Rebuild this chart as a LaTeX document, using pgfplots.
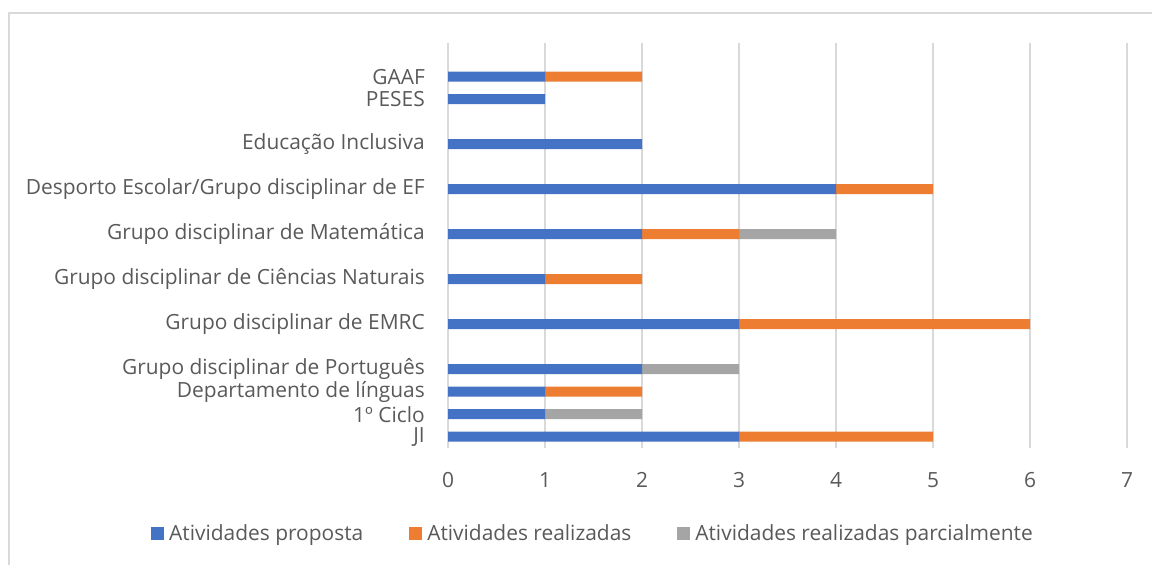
\documentclass[border=0pt]{standalone}
\usepackage{pgfplots}
\pgfplotsset{compat=1.18}
\usepackage{fontspec}
\setmainfont{Open Sans}
\definecolor{cblue}{HTML}{4472C4}
\definecolor{corange}{HTML}{ED7D31}
\definecolor{cgray}{HTML}{A5A5A5}
\definecolor{ctext}{HTML}{595959}
\definecolor{cgrid}{HTML}{D9D9D9}
\begin{document}
\begin{tikzpicture}[x=1bp,y=1bp]
\path[use as bounding box] (0,0) rectangle (1152,565);
\draw[cgrid, line width=1.5bp] (9,0) -- (9,552) -- (1152,552);
\begin{axis}[
 at={(448bp,117bp)}, anchor=south west,
 scale only axis, width=679bp, height=405bp,
 xbar stacked, bar width=10bp,
 xmin=0, xmax=7, ymin=-0.5, ymax=17.5,
 axis line style={draw=none},
 major tick length=0pt, tick style={draw=none},
 xmajorgrids, grid style={cgrid, line width=1.3bp},
 xtick={0,...,7}, ytick={0,1,2,3,5,7,9,11,13,15,16},
 yticklabels={JI,1º Ciclo,Departamento de línguas,Grupo disciplinar de Português,Grupo disciplinar de EMRC,Grupo disciplinar de Ciências Naturais,Grupo disciplinar de Matemática,Desporto Escolar/Grupo disciplinar de EF,Educação Inclusiva,PESES,GAAF},
 /pgf/number format/assume math mode=true,
 tick label style={font=\fontsize{21}{24}\selectfont, text=ctext, inner sep=0pt},
 xticklabel style={anchor=center, yshift=-32bp},
 yticklabel style={anchor=east, xshift=-23bp},
 legend columns=3,
 legend style={at={(0.212,-0.21)}, anchor=center, draw=none, font=\fontsize{21}{24}\selectfont, text=ctext,
   /tikz/every even column/.append style={column sep=46bp},
   nodes={inner sep=0pt, outer sep=0pt}},
 legend image code/.code={\fill[#1] (0bp,-6.5bp) rectangle (13bp,6.5bp);},
 legend style={/tikz/every odd column/.append style={column sep=5bp}},
]
\addplot[fill=cblue, draw=none] coordinates {(3,0) (1,1) (1,2) (2,3) (3,5) (1,7) (2,9) (4,11) (2,13) (1,15) (1,16)};
\addplot[fill=corange, draw=none] coordinates {(2,0) (0,1) (1,2) (0,3) (3,5) (1,7) (1,9) (1,11) (0,13) (0,15) (1,16)};
\addplot[fill=cgray, draw=none] coordinates {(0,0) (1,1) (0,2) (1,3) (0,5) (0,7) (1,9) (0,11) (0,13) (0,15) (0,16)};
\legend{Atividades proposta,Atividades realizadas,Atividades realizadas parcialmente}
\end{axis}
\end{tikzpicture}
\end{document}
